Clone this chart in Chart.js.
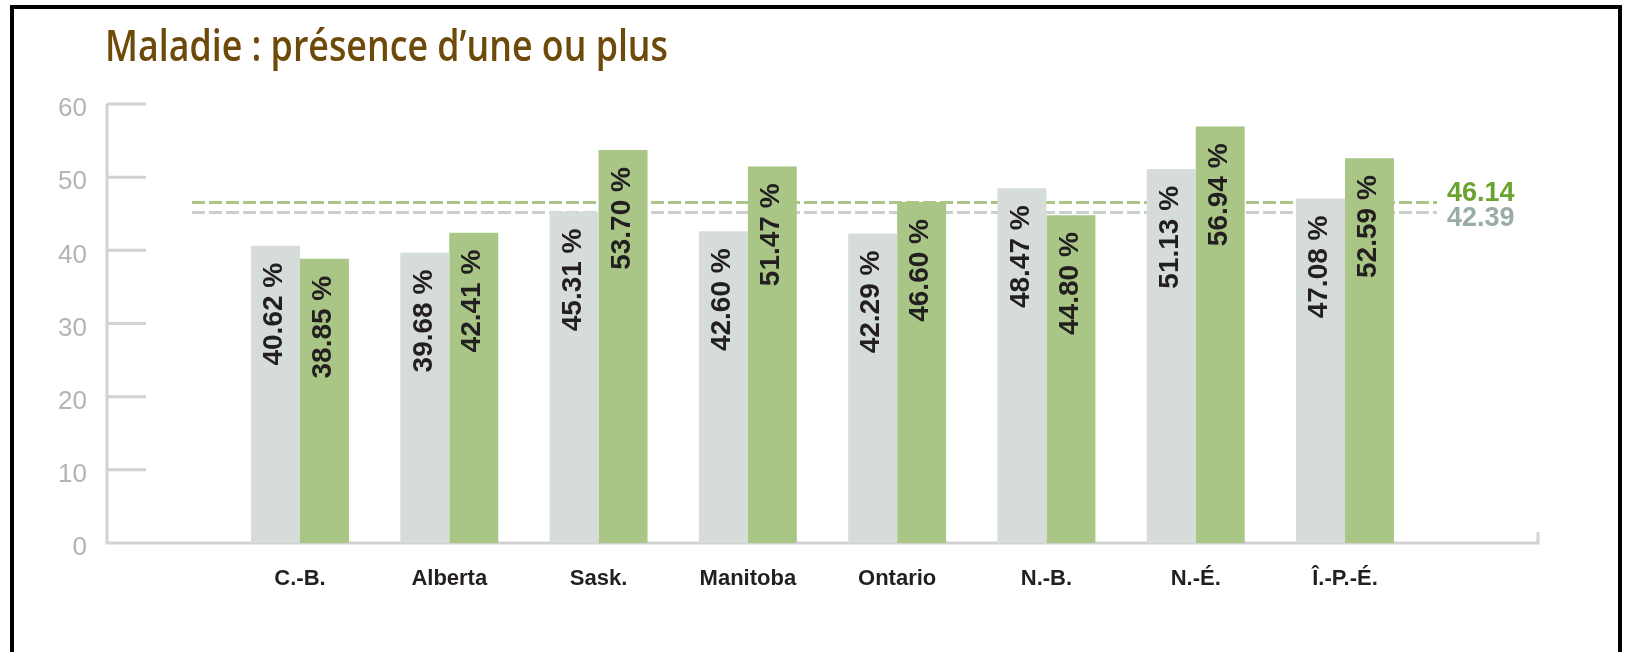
<!DOCTYPE html>
<html>
<head>
<meta charset="utf-8">
<script src="https://cdn.jsdelivr.net/npm/chart.js@4.4.1/dist/chart.umd.min.js"></script>
<style>
  html, body { margin: 0; padding: 0; background: #fff; overflow: hidden; }
  #wrap { position: relative; width: 1626px; height: 652px; }
  #frame { position: absolute; left: 10px; top: 5px; width: 1612px; height: 700px; box-sizing: border-box;
    border: 4px solid #000; border-bottom: none; pointer-events: none; }
  canvas { position: absolute; left: 0; top: 0; }
</style>
</head>
<body>
<div id="wrap">
  <canvas id="chart" width="1626" height="652"></canvas>
  <div id="frame"></div>
</div>
<script>
var titleText = 'Maladie : présence d’une ou plus';
var categories = ['C.-B.', 'Alberta', 'Sask.', 'Manitoba', 'Ontario', 'N.-B.', 'N.-É.', 'Î.-P.-É.'];
var greyValues = [40.62, 39.68, 45.31, 42.60, 42.29, 48.47, 51.13, 47.08];
var greenValues = [38.85, 42.41, 53.70, 51.47, 46.60, 44.80, 56.94, 52.59];
var yTicks = [0, 10, 20, 30, 40, 50, 60];
var avgLabels = ['46.14', '42.39'];
// the source draws its dashed lines here, not at the printed values
var avgLineValues = [46.6, 45.2];

var greyColor = '#d6ddd9';
var greenColor = '#a9c686';
var axisColor = '#d2d2d2';

var drawExtras = {
  id: 'drawExtras',
  beforeDatasetsDraw: function(chart) {
    var ctx = chart.ctx;
    var y = chart.scales.y;
    var left = 107;
    var right = 1538;

    // dashed average lines
    var lineColors = [greenColor, '#c9d0cd'];
    ctx.save();
    ctx.setLineDash([13, 4]);
    ctx.lineWidth = 3;
    for (var i = 0; i < avgLineValues.length; i++) {
      var ly = Math.round(y.getPixelForValue(avgLineValues[i])) + 0.5;
      ctx.strokeStyle = lineColors[i];
      ctx.beginPath();
      ctx.moveTo(192, ly);
      ctx.lineTo(1437, ly);
      ctx.stroke();
    }
    ctx.restore();

    // axes
    ctx.save();
    ctx.strokeStyle = axisColor;
    ctx.lineWidth = 3;
    var y0 = y.getPixelForValue(0);
    ctx.beginPath();
    ctx.moveTo(left, y.getPixelForValue(60));
    ctx.lineTo(left, y0);
    ctx.lineTo(right, y0);
    ctx.lineTo(right, y0 - 11);
    ctx.stroke();
    for (var t = 1; t < yTicks.length; t++) {
      var ty = y.getPixelForValue(yTicks[t]);
      ctx.beginPath();
      ctx.moveTo(left, ty);
      ctx.lineTo(146, ty);
      ctx.stroke();
    }
    ctx.restore();
  },
  afterDatasetsDraw: function(chart) {
    var ctx = chart.ctx;
    var x = chart.scales.x;
    var y = chart.scales.y;

    // values inside the bars
    ctx.save();
    ctx.fillStyle = '#231f20';
    ctx.font = 'bold 28px "Liberation Sans"';
    ctx.textAlign = 'right';
    ctx.textBaseline = 'middle';
    for (var d = 0; d < chart.data.datasets.length; d++) {
      var meta = chart.getDatasetMeta(d);
      var vals = chart.data.datasets[d].data;
      for (var j = 0; j < meta.data.length; j++) {
        var bar = meta.data[j];
        ctx.save();
        ctx.translate(bar.x - 1, bar.y + 17);
        ctx.rotate(-Math.PI / 2);
        ctx.fillText(vals[j].toFixed(2) + ' %', 0, 0);
        ctx.restore();
      }
    }
    ctx.restore();

    // average labels
    ctx.save();
    ctx.font = 'bold 27px "Liberation Sans"';
    ctx.textAlign = 'left';
    ctx.textBaseline = 'middle';
    ctx.fillStyle = '#6ca22e';
    ctx.fillText(avgLabels[0], 1447, y.getPixelForValue(avgLineValues[0]) - 8);
    ctx.fillStyle = '#9aaca7';
    ctx.fillText(avgLabels[1], 1447, y.getPixelForValue(avgLineValues[1]) + 6);
    ctx.restore();

    // category labels
    ctx.save();
    ctx.fillStyle = '#231f20';
    ctx.font = 'bold 22px "Liberation Sans"';
    ctx.textAlign = 'center';
    ctx.textBaseline = 'middle';
    for (var c = 0; c < categories.length; c++) {
      ctx.fillText(categories[c], x.getPixelForValue(c), 579);
    }
    ctx.restore();

    // y tick labels
    ctx.save();
    ctx.fillStyle = '#b4b4b4';
    ctx.font = '26px "Liberation Sans"';
    ctx.textAlign = 'right';
    ctx.textBaseline = 'middle';
    for (var k = 0; k < yTicks.length; k++) {
      ctx.fillText(String(yTicks[k]), 87, y.getPixelForValue(yTicks[k]) + 5);
    }
    ctx.restore();

    // title, squeezed to the width of the original
    ctx.save();
    ctx.fillStyle = '#6e4a0a';
    ctx.font = '600 44px "Open Sans"';
    ctx.textAlign = 'left';
    ctx.textBaseline = 'alphabetic';
    var w = ctx.measureText(titleText).width;
    ctx.translate(105, 61);
    ctx.scale(563 / w, 1);
    ctx.fillText(titleText, 0, 0);
    ctx.restore();
  }
};

var chart = new Chart(document.getElementById('chart').getContext('2d'), {
  type: 'bar',
  data: {
    labels: categories,
    datasets: [
      { label: 'Grey', data: greyValues, backgroundColor: greyColor, barPercentage: 1, categoryPercentage: 0.656 },
      { label: 'Green', data: greenValues, backgroundColor: greenColor, barPercentage: 1, categoryPercentage: 0.656 }
    ]
  },
  options: {
    responsive: false,
    animation: false,
    devicePixelRatio: 1,
    layout: { padding: { left: 225.35, right: 206.35, top: 104, bottom: 109 } },
    plugins: { legend: { display: false }, tooltip: { enabled: false }, title: { display: false } },
    scales: {
      x: { display: false },
      y: { display: false, min: 0, max: 60 }
    }
  },
  plugins: [drawExtras]
});
</script>
</body>
</html>
